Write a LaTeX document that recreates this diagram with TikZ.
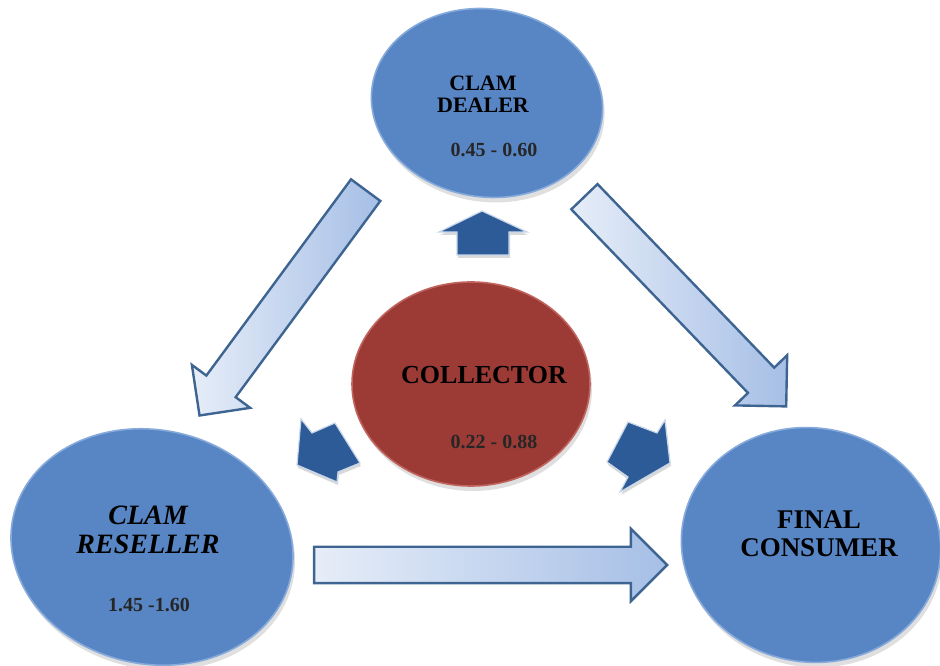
\documentclass[tikz,border=0pt]{standalone}
\usepackage{fontspec}
\setmainfont{Liberation Serif}[BoldFont={Liberation Serif Bold}, ItalicFont={Liberation Serif Italic}, BoldItalicFont={Liberation Serif Bold Italic}]
\usetikzlibrary{shapes.geometric,shapes.arrows,shadows}
\definecolor{discblue}{HTML}{5886C4}
\definecolor{discrim}{HTML}{86AADB}
\definecolor{discred}{HTML}{9C3B36}
\definecolor{redrim}{HTML}{C0645D}
\definecolor{arrline}{HTML}{3E6592}
\definecolor{arrlight}{HTML}{E6EDF8}
\definecolor{arrdark}{HTML}{A6BFE6}
\definecolor{smallfill}{HTML}{2D5B98}
\definecolor{smalledge}{HTML}{C8D6EA}
\definecolor{numtext}{HTML}{262626}
\tikzset{
  disc/.style={ellipse, inner sep=0pt, line width=1.6pt,
    drop shadow={opacity=0.25, shadow xshift=2pt, shadow yshift=-5pt}},
  bluedisc/.style={disc, fill=discblue, draw=discrim},
  reddisc/.style={disc, fill=discred, draw=redrim},
  bigarrow/.style={single arrow, draw=arrline, line width=2.4pt,
    left color=arrlight, right color=arrdark,
    inner xsep=0pt, inner ysep=17pt, single arrow head extend=18pt,
    single arrow tip angle=90},
  smallarrow/.style={fill=smallfill, draw=smalledge, line width=1.2pt, line join=miter,
    drop shadow={opacity=0.3, shadow xshift=1pt, shadow yshift=-3pt}},
  lbl/.style={align=center, text=black, inner sep=1pt},
  num/.style={text=numtext, font=\bfseries\fontsize{20}{22}\selectfont}
}
\begin{document}
\begin{tikzpicture}[x=1pt,y=1pt]
\useasboundingbox (0,0) rectangle (940,666);
% discs
\node[bluedisc, minimum width=232pt, minimum height=188pt, rotate=-8] (dealer) at (487,563) {};
\node[reddisc, minimum width=238pt, minimum height=204pt] (collector) at (471,282) {};
\node[bluedisc, minimum width=284pt, minimum height=234pt, rotate=-12] (reseller) at (152,119) {};
\node[bluedisc, minimum width=260pt, minimum height=234pt, rotate=-10] (consumer) at (811,121) {};
% labels
\node[lbl, font=\bfseries\fontsize{22}{22}\selectfont] (dealerlbl) at (483,572) {CLAM\\DEALER};
\node[num] (dealernum) at (494,516) {0.45 - 0.60};
\node[lbl, font=\bfseries\fontsize{26}{27}\selectfont] (collectorlbl) at (484,291) {COLLECTOR};
\node[num] (collectornum) at (494,224) {0.22 - 0.88};
\node[lbl, font=\bfseries\itshape\fontsize{28}{29}\selectfont] (resellerlbl) at (148,136) {CLAM\\RESELLER};
\node[num] (resellernum) at (149,61) {1.45 -1.60};
\node[lbl, font=\bfseries\fontsize{27}{28}\selectfont] (consumerlbl) at (819,132) {FINAL\\CONSUMER};
% big arrows
\node[bigarrow, minimum height=280pt, minimum width=70pt, rotate=233.6] (a1) at (288,370.5) {};
\node[bigarrow, minimum height=291pt, minimum width=70pt, rotate=-46.1] (a2) at (679,371) {};
\node[bigarrow, minimum height=353pt, minimum width=70pt] (a3) at (481.5,101) {};
% small arrows from the collector
\draw[smallarrow] (482,455) -- (527,434) -- (509,434) -- (509,411) -- (457,411) -- (457,434) -- (439,434) -- cycle;
\draw[smallarrow] (297,201) -- (301,247) -- (312,233) -- (335,243) -- (360,203) -- (338,194) -- (337,184) -- cycle;
\draw[smallarrow] (670,203) -- (620,174) -- (628,189) -- (607,204) -- (628,244) -- (657,233) -- (665,246) -- cycle;
\end{tikzpicture}
\end{document}
